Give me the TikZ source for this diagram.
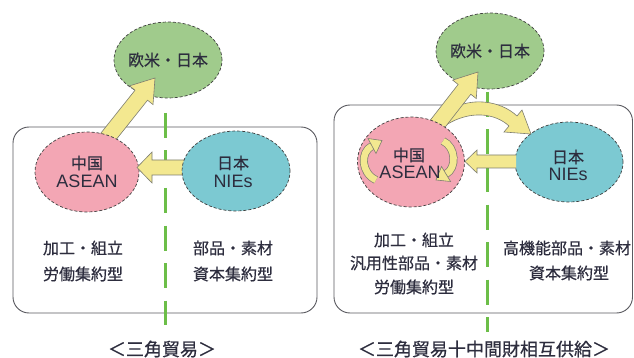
\documentclass[tikz,border=0pt]{standalone}
\usepackage{fontspec}
\setmainfont[FakeBold=0.6]{Noto Sans CJK JP}
\newfontfamily\latf{Liberation Sans}
\usetikzlibrary{shapes.geometric,calc}
\definecolor{grnE}{RGB}{160,203,140}
\definecolor{pnkE}{RGB}{243,166,180}
\definecolor{bluE}{RGB}{124,201,210}
\definecolor{yelA}{RGB}{243,232,144}
\definecolor{dashG}{RGB}{108,190,72}
\definecolor{txtC}{RGB}{45,45,62}
\definecolor{boxL}{RGB}{90,90,96}
\definecolor{arrL}{RGB}{125,125,112}
% #1 start, #2 tip, #3 body half width, #4 head half width, #5 head length, #6 name
\newcommand\fatarrow[6]{%
  \coordinate (#6b) at ($(#2)!#5!(#1)$);
  \filldraw[fatarr] ($(#1)!#3!90:(#2)$) -- ($(#6b)!#3!90:(#2)$) -- ($(#6b)!#4!90:(#2)$) -- (#2)
     -- ($(#6b)!#4!-90:(#2)$) -- ($(#6b)!#3!-90:(#2)$) -- ($(#1)!#3!-90:(#2)$);}
\begin{document}
\begin{tikzpicture}[x=1pt,y=-1pt,
  panel/.style={draw=boxL, line width=0.9pt, rounded corners=16pt, fill=white},
  gdash/.style={draw=dashG, line width=3pt, dash pattern=on 25pt off 12.5pt},
  ell/.style={ellipse, draw=black!75, densely dashed, line width=0.7pt, inner sep=0pt},
  fatarr/.style={fill=yelA, draw=arrL, line width=0.6pt, line join=miter},
  circout/.style={line width=8pt, draw=arrL},
  circin/.style={line width=6.6pt, draw=yelA},
  cjk/.style={text=txtC, font=\fontsize{16}{18}\selectfont, inner sep=0pt},
  lat/.style={text=txtC, font=\latf\fontsize{18}{20}\selectfont, inner sep=0pt},
  capt/.style={text=txtC, font=\fontsize{18}{20}\selectfont, inner sep=0pt}]
\useasboundingbox[fill=white] (0,0) rectangle (634,358);

% panels
\draw[panel] (13,127) rectangle (317,313);
\draw[panel] (334,105) rectangle (632.5,313);

% dashed lines
\coordinate (dL1) at (165,113); \coordinate (dL2) at (165,325);
\coordinate (dR1) at (487,92);  \coordinate (dR2) at (487,332);
\draw[gdash] (dL1) -- (dL2);
\draw[gdash] (dR1) -- (dR2);

% ===== left panel =====
\node[ell, fill=grnE, minimum width=108pt, minimum height=76pt] (gL) at (168,60) {};
\coordinate (upLs) at (104,142); \coordinate (upLt) at (155,78);
\fatarrow{upLs}{upLt}{8pt}{15pt}{22pt}{upL}
\node[ell, fill=pnkE, minimum width=104pt, minimum height=80pt] (pL) at (87,172) {};
\coordinate (hLs) at (200,167.5); \coordinate (hLt) at (137,167.5);
\fatarrow{hLs}{hLt}{7.5pt}{15.5pt}{15pt}{hL}
\node[ell, fill=bluE, minimum width=108pt, minimum height=80pt] (bL) at (236,171) {};

\node[cjk] (gLt) at (gL.center) {欧米・日本};
\node[cjk] (pLt1) at (87,163) {中国};
\node[lat] (pLt2) at (87,181) {ASEAN};
\node[cjk] (bLt1) at (233,163) {日本};
\node[lat] (bLt2) at (233,181) {NIEs};
\node[cjk] (lL1) at (83,248) {加工・組立};
\node[cjk] (lL2) at (83,274) {労働集約型};
\node[cjk] (lR1) at (233,248) {部品・素材};
\node[cjk] (lR2) at (233,274) {資本集約型};
\node[capt] (capL) at (162,349) {＜三角貿易＞};

% ===== right panel =====
\node[ell, fill=grnE, minimum width=108pt, minimum height=76pt] (gR) at (490,51) {};
\node[ell, fill=bluE, minimum width=108pt, minimum height=80pt] (bR) at (569,162) {};
\filldraw[fatarr] (446,125) -- (450,110) .. controls (470,97) and (500,100) .. (517,116)
   -- (522,110) -- (531,134) -- (504,132) -- (509,126) .. controls (495,113) and (470,110) .. (446,125);
\coordinate (upRs) at (432,131); \coordinate (upRt) at (478,72);
\fatarrow{upRs}{upRt}{8pt}{15pt}{22pt}{upR}
\node[ell, fill=pnkE, minimum width=107pt, minimum height=90pt] (pR) at (411,162) {};
% circulating arrows
\draw[circout] (376,180) .. controls (361,173) and (360,152) .. (372,146);
\draw[circin]  (376,180) .. controls (361,173) and (360,152) .. (372,146);
\filldraw[fatarr] (376,153.5) -- (382,140.5) -- (368,138.5) -- cycle;
\draw[circout] (443,141) .. controls (456,147) and (457,168) .. (446,174);
\draw[circin]  (443,141) .. controls (456,147) and (457,168) .. (446,174);
\filldraw[fatarr] (441.5,166.5) -- (436,180) -- (450.5,181.5) -- cycle;
\coordinate (hRs) at (516,161.5); \coordinate (hRt) at (465,161.5);
\fatarrow{hRs}{hRt}{6.5pt}{11.5pt}{12pt}{hR}

\node[cjk] (gRt) at (gR.center) {欧米・日本};
\node[cjk] (pRt1) at (409,155) {中国};
\node[lat] (pRt2) at (410,172) {ASEAN};
\node[cjk] (bRt1) at (568,157) {日本};
\node[lat] (bRt2) at (568,174) {NIEs};
\node[cjk] (rL1) at (414,240) {加工・組立};
\node[cjk] (rL2) at (414,263) {汎用性部品・素材};
\node[cjk] (rL3) at (414,287) {労働集約型};
\node[cjk] (rR1) at (567,248) {高機能部品・素材};
\node[cjk] (rR2) at (569,273) {資本集約型};
\node[capt] (capR) at (484,349) {＜三角貿易十中間財相互供給＞};
\end{tikzpicture}
\end{document}
